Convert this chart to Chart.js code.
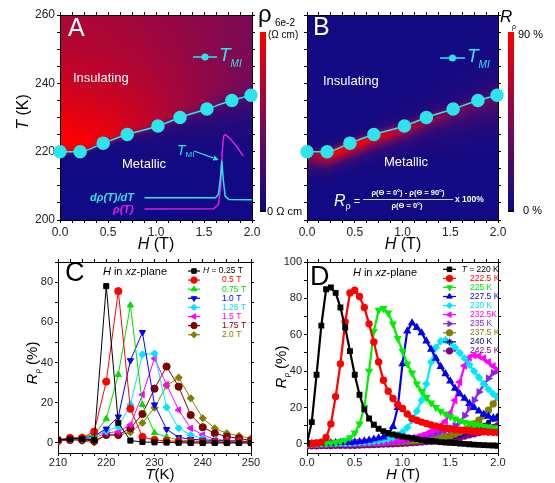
<!DOCTYPE html>
<html>
<head>
<meta charset="UTF-8">
<title>Resistivity maps and R_rho curves</title>
<script src="https://cdn.jsdelivr.net/npm/chart.js"></script>
<style>
  html, body { margin: 0; padding: 0; background: #fff; }
  #page { position: relative; width: 555px; height: 483px; overflow: hidden; }
  #page canvas { position: absolute; left: 0; top: 0; }
</style>
</head>
<body>
<div id="page">
  <canvas id="chart-a" width="555" height="483"></canvas>
  <canvas id="chart-b" width="555" height="483"></canvas>
  <canvas id="chart-c" width="555" height="483"></canvas>
  <canvas id="chart-d" width="555" height="483"></canvas>
</div>
<script>
// ---- panels A, B: T_MI line (field in T, temperature in K)
const tmiField = [0, 0.21, 0.45, 0.70, 1.02, 1.25, 1.53, 1.79, 1.99];
const tmiTemp = [220, 220, 222.5, 225, 227.5, 230, 232.5, 235, 236.5];

// inset curves of panel A
const drhoField = [0.88, 1.62, 1.65, 1.67, 1.685, 1.70, 1.72, 1.76, 2.0];
const drhoTemp = [206.5, 206.5, 207.5, 212, 217.3, 212, 207, 206, 205.9];
const rhoField = [0.88, 1.60, 1.65, 1.675, 1.69, 1.705, 1.72, 1.77, 1.84, 1.91];
const rhoTemp = [203.2, 203.3, 204.5, 210, 220, 224.5, 225, 223.9, 221.5, 218.7];

// colour maps, read as fraction of the colour bar, by field (columns)
// and by distance from the T_MI line in K (rows)
const mapField = [0, 0.25, 0.5, 0.75, 1.0, 1.25, 1.5, 1.75, 2.0];
const mapOffset = [-20, -12, -8, -5, -3, -1.5, -0.5, 0.5, 1.5, 3, 5, 8, 12, 20, 30, 40];
const rhoMap = [
  [0.02, 0.02, 0.02, 0.02, 0.02, 0.02, 0.03, 0.03, 0.04],
  [0.02, 0.02, 0.03, 0.03, 0.04, 0.04, 0.05, 0.06, 0.07],
  [0.02, 0.03, 0.03, 0.04, 0.05, 0.06, 0.08, 0.10, 0.11],
  [0.03, 0.03, 0.04, 0.05, 0.07, 0.09, 0.12, 0.14, 0.16],
  [0.03, 0.04, 0.05, 0.07, 0.10, 0.13, 0.16, 0.19, 0.21],
  [0.04, 0.05, 0.08, 0.12, 0.17, 0.20, 0.22, 0.25, 0.26],
  [0.30, 0.30, 0.35, 0.35, 0.35, 0.33, 0.30, 0.30, 0.30],
  [0.95, 0.93, 0.85, 0.72, 0.60, 0.50, 0.42, 0.36, 0.34],
  [0.98, 0.96, 0.90, 0.80, 0.70, 0.60, 0.50, 0.42, 0.38],
  [1.00, 0.97, 0.90, 0.80, 0.72, 0.64, 0.55, 0.47, 0.42],
  [0.99, 0.95, 0.88, 0.79, 0.71, 0.64, 0.57, 0.50, 0.45],
  [0.96, 0.91, 0.85, 0.77, 0.70, 0.63, 0.57, 0.51, 0.46],
  [0.90, 0.86, 0.80, 0.74, 0.68, 0.62, 0.56, 0.51, 0.47],
  [0.80, 0.77, 0.73, 0.69, 0.64, 0.60, 0.55, 0.51, 0.48],
  [0.72, 0.70, 0.67, 0.64, 0.61, 0.57, 0.54, 0.51, 0.48],
  [0.68, 0.66, 0.64, 0.62, 0.59, 0.56, 0.53, 0.50, 0.48]
];
const rpMap = [
  [0.03, 0.03, 0.03, 0.03, 0.03, 0.03, 0.03, 0.03, 0.03],
  [0.03, 0.03, 0.03, 0.04, 0.04, 0.05, 0.06, 0.07, 0.08],
  [0.05, 0.05, 0.06, 0.06, 0.07, 0.08, 0.10, 0.12, 0.14],
  [0.15, 0.20, 0.20, 0.18, 0.16, 0.16, 0.17, 0.19, 0.20],
  [0.35, 0.60, 0.60, 0.50, 0.40, 0.34, 0.30, 0.28, 0.28],
  [0.50, 0.95, 0.95, 0.85, 0.70, 0.55, 0.45, 0.38, 0.34],
  [0.45, 0.90, 0.95, 0.85, 0.70, 0.56, 0.46, 0.40, 0.36],
  [0.20, 0.35, 0.40, 0.40, 0.38, 0.34, 0.30, 0.28, 0.28],
  [0.08, 0.10, 0.12, 0.14, 0.15, 0.16, 0.16, 0.17, 0.20],
  [0.05, 0.06, 0.06, 0.07, 0.08, 0.09, 0.10, 0.12, 0.14],
  [0.04, 0.04, 0.05, 0.05, 0.06, 0.07, 0.08, 0.09, 0.10],
  [0.04, 0.04, 0.04, 0.05, 0.05, 0.05, 0.06, 0.07, 0.08],
  [0.04, 0.04, 0.04, 0.04, 0.04, 0.04, 0.05, 0.05, 0.06],
  [0.04, 0.04, 0.04, 0.04, 0.04, 0.04, 0.04, 0.04, 0.05],
  [0.04, 0.04, 0.04, 0.04, 0.04, 0.04, 0.04, 0.04, 0.04],
  [0.04, 0.04, 0.04, 0.04, 0.04, 0.04, 0.04, 0.04, 0.04]
];

// ---- panel C: R_rho (%) vs T (K)
const tempC = [210, 212.5, 215, 217.5, 220, 222.5, 225, 227.5, 230, 232.5, 235, 237.5, 240, 242.5, 245, 247.5, 250];
const rpC025 = [1.5, 2, 2, 1.5, 78, 10, 1.2, 0.5, 0.3, 0.2, 0.1, 0, 0, 0, 0, 0, 0];
const rpC050 = [1.5, 2.5, 2.5, 5.6, 30.5, 75.5, 17, 3, 1.5, 1, 0.8, 0.6, 0.5, 0.5, 0.4, 0.4, 0.3];
const rpC075 = [1.5, 2.5, 3, 4, 12, 34, 68.5, 19, 5, 3, 1.5, 1, 0.8, 0.6, 0.5, 0.5, 0.4];
const rpC100 = [1.5, 2, 2.5, 3.5, 7, 13, 41, 55, 19, 6.8, 2.8, 1.8, 1.5, 1.2, 1, 0.8, 0.6];
const rpC125 = [1.5, 2, 2, 3, 6, 8, 19, 44, 44.5, 17.7, 7.3, 4, 2.3, 1.5, 1, 0.8, 0.5];
const rpC150 = [1, 2, 2, 2.5, 5, 5.6, 9, 24, 42, 29, 16.4, 7.3, 4, 1.8, 1.3, 1, 0.8];
const rpC175 = [1, 1.5, 1.5, 1, 4, 4, 7.3, 14.4, 27, 38, 28, 13.9, 7.8, 4.8, 3.1, 2.3, 1.2];
const rpC200 = [0.8, 2, 1, 0.2, 4.1, 3.8, 5.3, 10, 17.5, 28.5, 32.5, 22.2, 12.3, 7.3, 4.8, 3.5, 2.3];

// ---- panel D: R_rho (%) vs H (T)
const fieldD = [0, 0.05, 0.1, 0.15, 0.2, 0.25, 0.3, 0.35, 0.4, 0.45, 0.5, 0.55, 0.6, 0.65, 0.7, 0.75, 0.8, 0.85, 0.9, 0.95,
  1.0, 1.05, 1.1, 1.15, 1.2, 1.25, 1.3, 1.35, 1.4, 1.45, 1.5, 1.55, 1.6, 1.65, 1.7, 1.75, 1.8, 1.85, 1.9, 1.95, 2.0];
const rpD220 = [0.4, 12, 38, 65, 85, 86, 83, 75, 64, 51, 38, 27, 19, 14, 10.5, 8.3, 7, 6, 5.2, 4.6,
  4.1, 3.6, 3.1, 2.6, 2.2, 1.9, 1.6, 1.3, 1.0, 0.8, 0.6, 0.4, 0.2, 0, -0.2, -0.4, -0.5, -0.7, -0.8, -0.9, -1];
const rpD2225 = [0, 0.2, 0.5, 1, 3.5, 11, 26, 44, 67, 83, 84.5, 81, 75, 66, 56, 45, 35, 29, 25, 21.5,
  19.5, 16.5, 14, 13, 12, 11.2, 10.4, 9.8, 9.2, 8.7, 8.3, 7.9, 7.6, 7.4, 7.2, 7, 6.8, 6.7, 6.5, 6.4, 6.3];
const rpD225 = [0, 0.1, 0.2, 0.3, 0.4, 0.6, 0.8, 1.2, 2, 3.5, 6, 11, 20, 40, 62, 73.5, 74.5, 72, 66, 58,
  51, 44, 39, 33, 29, 25.5, 22.5, 20, 18, 16.5, 15, 13.8, 12.7, 12, 11.3, 10.7, 10.2, 9.7, 9.3, 8.9, 8.6];
const rpD2275 = [0, 0.1, 0.2, 0.3, 0.4, 0.5, 0.6, 0.7, 0.8, 0.9, 1, 1.2, 1.6, 2, 2.6, 3.2, 3.8, 5.2, 9.5, 20,
  44, 62, 66.5, 64, 61, 56.5, 52, 47, 42.5, 38.5, 34.5, 30.5, 27.5, 25, 22.2, 20, 18, 16.3, 15.2, 14.3, 13.7];
const rpD230 = [0, 0.1, 0.1, 0.2, 0.2, 0.3, 0.3, 0.4, 0.5, 0.6, 0.7, 0.8, 1, 1.2, 1.5, 1.8, 2.2, 2.8, 3.6, 4.8,
  6.5, 9, 13, 18, 24, 33, 45, 53, 56.5, 57, 55.5, 53, 50, 47, 43.5, 40, 36.5, 33, 30, 27.5, 25.5];
const rpD2325 = [0, 0, 0.1, 0.1, 0.2, 0.2, 0.3, 0.3, 0.4, 0.5, 0.5, 0.6, 0.7, 0.8, 0.9, 1.0, 1.2, 1.4, 1.6, 1.9,
  2.2, 2.6, 3.1, 3.7, 4.5, 5.5, 6.8, 8.2, 10, 12.5, 17, 24, 34, 43, 47.5, 48.7, 48.3, 47, 45, 42.8, 40.5];
const rpD235 = [0, 0, 0.1, 0.1, 0.2, 0.2, 0.3, 0.3, 0.4, 0.4, 0.5, 0.6, 0.7, 0.8, 0.9, 1.0, 1.1, 1.3, 1.5, 1.7,
  2.0, 2.3, 2.7, 3.1, 3.6, 4.2, 5, 5.8, 6.6, 7.3, 8, 10, 12, 15.5, 19.5, 24, 28.5, 32.5, 36, 39, 40.5];
const rpD2375 = [0, 0, 0, 0.1, 0.1, 0.2, 0.2, 0.3, 0.3, 0.4, 0.4, 0.5, 0.5, 0.6, 0.7, 0.8, 0.9, 1.0, 1.1, 1.2,
  1.4, 1.5, 1.7, 1.9, 2.1, 2.4, 2.7, 3, 3.4, 3.9, 4.5, 5.4, 6.5, 7.7, 9, 11, 13, 15.5, 18.5, 22, 26];
const rpD240 = [-0.8, -0.8, -0.7, -0.7, -0.6, -0.6, -0.5, -0.5, -0.4, -0.3, -0.2, -0.1, 0, 0.1, 0.2, 0.3, 0.4, 0.5, 0.6, 0.8,
  0.9, 1.1, 1.3, 1.5, 1.7, 1.9, 2.2, 2.5, 2.8, 3.2, 3.6, 4.1, 4.8, 5.6, 6.5, 7.6, 8.8, 10.2, 11.8, 13.6, 15.5];
const rpD2425 = [-1, -1, -1, -0.9, -0.9, -0.9, -0.8, -0.8, -0.8, -0.7, -0.7, -0.6, -0.5, -0.4, -0.3, -0.2, -0.1, 0, 0.1, 0.2,
  0.3, 0.5, 0.7, 0.9, 1.1, 1.3, 1.5, 1.8, 2.1, 2.4, 2.8, 3.2, 3.7, 4.3, 5, 5.6, 6.3, 7.1, 8, 9, 10];

const PAGE_W = 555, PAGE_H = 483;
const FONT = '"Liberation Sans", Arial, Helvetica, sans-serif';
const CYAN = '#2ee4ec';
const MAGENTA = '#e020e0';
const f = (size, style) => ((style || '') + ' ' + size + 'px ' + FONT).trim();
const xy = (xs, ys) => xs.map((x, i) => ({x: x, y: ys[i]}));

// ---- small drawing helpers
function lerp(xs, ys, x) {
  if (x <= xs[0]) return ys[0];
  for (let i = 1; i < xs.length; i++) {
    if (x <= xs[i]) return ys[i - 1] + (x - xs[i - 1]) / (xs[i] - xs[i - 1]) * (ys[i] - ys[i - 1]);
  }
  return ys[ys.length - 1];
}
function locate(xs, x) {
  if (x <= xs[0]) return [0, 0];
  for (let i = 1; i < xs.length; i++) {
    if (x <= xs[i]) return [i - 1, (x - xs[i - 1]) / (xs[i] - xs[i - 1])];
  }
  return [xs.length - 2, 1];
}
function mapValue(grid, field, dT) {
  const [c, fc] = locate(mapField, field);
  const [r, fr] = locate(mapOffset, dT);
  const a = grid[r][c] * (1 - fc) + grid[r][c + 1] * fc;
  const b = grid[r + 1][c] * (1 - fc) + grid[r + 1][c + 1] * fc;
  return a * (1 - fr) + b * fr;
}
const cmapStops = [[0, [10, 10, 135]], [0.45, [115, 10, 90]], [1, [255, 0, 0]]];
function cmap(t) {
  t = Math.max(0, Math.min(1, t));
  for (let i = 1; i < cmapStops.length; i++) {
    const [t0, c0] = cmapStops[i - 1], [t1, c1] = cmapStops[i];
    if (t <= t1) {
      const k = (t - t0) / (t1 - t0);
      return c0.map((v, j) => Math.round(v + k * (c1[j] - v)));
    }
  }
  return cmapStops[cmapStops.length - 1][1];
}

function drawText(ctx, x, y, parts, color, align, rotate) {
  ctx.save();
  ctx.translate(x, y);
  if (rotate) ctx.rotate(rotate);
  ctx.textBaseline = 'middle';
  ctx.textAlign = 'left';
  let w = 0;
  for (const p of parts) { ctx.font = p[1]; w += ctx.measureText(p[0]).width; }
  let cx = align === 'center' ? -w / 2 : align === 'right' ? -w : 0;
  for (const p of parts) {
    ctx.font = p[1];
    ctx.fillStyle = p[3] || color;
    ctx.fillText(p[0], cx, p[2] || 0);
    cx += ctx.measureText(p[0]).width;
  }
  ctx.restore();
}

function drawMarker(ctx, style, rot, r, x, y) {
  if (Chart.helpers && Chart.helpers.drawPoint) {
    Chart.helpers.drawPoint(ctx, {pointStyle: style, rotation: rot || 0, radius: r, borderWidth: 1}, x, y);
  } else {
    ctx.beginPath(); ctx.arc(x, y, r, 0, Math.PI * 2); ctx.fill(); ctx.stroke();
  }
}

function colorbar(ctx, x, top, w, bottom) {
  const g = ctx.createLinearGradient(0, bottom, 0, top);
  for (let i = 0; i <= 20; i++) g.addColorStop(i / 20, 'rgb(' + cmap(i / 20).join(',') + ')');
  ctx.fillStyle = g;
  ctx.fillRect(x, top, w, bottom - top);
  ctx.fillStyle = '#000';
  ctx.fillRect(x, bottom - 2, w, 2);
}

function tmiKey(ctx, x0, x1, y) {
  ctx.save();
  ctx.strokeStyle = CYAN; ctx.fillStyle = CYAN; ctx.lineWidth = 1.5;
  ctx.beginPath(); ctx.moveTo(x0, y); ctx.lineTo(x1, y); ctx.stroke();
  ctx.beginPath(); ctx.arc((x0 + x1) / 2, y, 3.5, 0, Math.PI * 2); ctx.fill();
  ctx.restore();
  drawText(ctx, x1 + 2, y - 1, [['T', f(19, 'italic')], ['MI', f(10, 'italic'), 8]], CYAN);
}

function seriesKey(chart, x0, x1, y0, dy, tx, first, firstX) {
  const ctx = chart.ctx;
  chart.data.datasets.forEach((ds, i) => {
    const y = y0 + i * dy;
    ctx.save();
    ctx.strokeStyle = ds.borderColor; ctx.lineWidth = 1.2;
    ctx.beginPath(); ctx.moveTo(x0, y); ctx.lineTo(x1, y); ctx.stroke();
    ctx.fillStyle = ds.pointBackgroundColor; ctx.strokeStyle = ds.pointBorderColor; ctx.lineWidth = 1;
    drawMarker(ctx, ds.pointStyle, ds.pointRotation, 3.2, (x0 + x1) / 2, y);
    ctx.restore();
    if (i === 0) {
      drawText(ctx, firstX, y, [[first[0], f(8.5, 'italic')], [first[1] + ds.label, f(8.5)]], ds.borderColor);
    } else {
      drawText(ctx, tx, y, [[ds.label, f(8.5)]], ds.borderColor);
    }
  });
}

function heatmap(grid) {
  return {
    id: 'heatmap',
    beforeDraw(chart) {
      const a = chart.chartArea, sx = chart.scales.x, sy = chart.scales.y;
      const w = Math.round(a.right - a.left), h = Math.round(a.bottom - a.top);
      const off = document.createElement('canvas');
      off.width = w; off.height = h;
      const octx = off.getContext('2d');
      const img = octx.createImageData(w, h);
      for (let i = 0; i < w; i++) {
        const field = sx.getValueForPixel(a.left + i + 0.5);
        const tmi = lerp(tmiField, tmiTemp, field);
        for (let j = 0; j < h; j++) {
          const temp = sy.getValueForPixel(a.top + j + 0.5);
          const c = cmap(mapValue(grid, field, temp - tmi));
          const k = 4 * (j * w + i);
          img.data[k] = c[0]; img.data[k + 1] = c[1]; img.data[k + 2] = c[2]; img.data[k + 3] = 255;
        }
      }
      octx.putImageData(img, 0, 0);
      chart.ctx.drawImage(off, a.left, a.top);
    }
  };
}

// four axes round the plot; axis boxes are sized so the plot area lands on `box`
function frameScales(box, xa, ya, showY, fontSize) {
  const grid = {drawOnChartArea: false, drawTicks: true, tickLength: 3, color: '#000', lineWidth: 1};
  const border = {display: true, color: '#000', width: 1};
  const label = (ax) => (v) => Math.abs(v / ax.major - Math.round(v / ax.major)) < 1e-6 ? ax.fmt(v) : '';
  const tickFont = {family: FONT, size: fontSize};
  const base = (ax) => ({type: 'linear', min: ax.min, max: ax.max, grid: grid, border: border});
  return {
    x: Object.assign(base(xa), {position: 'bottom',
      ticks: {stepSize: xa.step, autoSkip: false, includeBounds: false, maxRotation: 0, padding: fontSize < 12 ? 0 : 2,
        color: '#222', font: tickFont, callback: label(xa)},
      afterFit: (s) => { s.height = PAGE_H - box.bottom; }}),
    xTop: Object.assign(base(xa), {position: 'top',
      ticks: {stepSize: xa.step, autoSkip: false, includeBounds: false, display: false},
      afterFit: (s) => { s.height = box.top; }}),
    y: Object.assign(base(ya), {position: 'left',
      ticks: {stepSize: ya.step, autoSkip: false, includeBounds: false, padding: 2, color: '#222', font: tickFont,
        callback: showY ? label(ya) : () => ''},
      afterFit: (s) => { s.width = box.left; }}),
    yRight: Object.assign(base(ya), {position: 'right',
      ticks: {stepSize: ya.step, autoSkip: false, includeBounds: false, display: false},
      afterFit: (s) => { s.width = PAGE_W - box.right; }})
  };
}

function options(box, xa, ya, showY, fontSize) {
  return {
    responsive: false, animation: false, devicePixelRatio: 1, events: [],
    layout: {padding: 0},
    plugins: {legend: {display: false}, tooltip: {enabled: false}},
    scales: frameScales(box, xa, ya, showY, fontSize)
  };
}

const fieldAxis = {min: 0, max: 2, step: 0.125, major: 0.5, fmt: (v) => v.toFixed(1)};
const tempAxis = {min: 200, max: 260, step: 5, major: 20, fmt: (v) => String(v)};

function tmiDataset() {
  return {label: 'T_MI', data: xy(tmiField, tmiTemp), borderColor: CYAN, backgroundColor: CYAN,
    pointBackgroundColor: CYAN, pointBorderColor: CYAN, pointRadius: 6, borderWidth: 1.5,
    cubicInterpolationMode: 'monotone', clip: false, xAxisID: 'x', yAxisID: 'y'};
}

// ---------------- panel A
const boxA = {left: 60, top: 15, right: 252, bottom: 220};
new Chart(document.getElementById('chart-a'), {
  type: 'line',
  data: {datasets: [
    tmiDataset(),
    {label: 'dρ(T)/dT', data: xy(drhoField, drhoTemp), borderColor: CYAN, pointRadius: 0, borderWidth: 1.5,
      clip: false, xAxisID: 'x', yAxisID: 'y'},
    {label: 'ρ(T)', data: xy(rhoField, rhoTemp), borderColor: MAGENTA, pointRadius: 0, borderWidth: 1.5,
      clip: false, xAxisID: 'x', yAxisID: 'y'}
  ]},
  options: options(boxA, fieldAxis, tempAxis, true, 12),
  plugins: [heatmap(rhoMap), {
    id: 'decorA',
    afterDraw(chart) {
      const ctx = chart.ctx, sx = chart.scales.x, sy = chart.scales.y;
      drawText(ctx, 68, 29, [['A', f(25)]], '#fff');
      drawText(ctx, 73, 78, [['Insulating', f(13)]], '#fff');
      drawText(ctx, 122, 164, [['Metallic', f(13)]], '#fff');
      tmiKey(ctx, 193, 217, 57);
      drawText(ctx, 90, 198, [['dρ(T)/dT', f(11, 'italic bold')]], CYAN);
      drawText(ctx, 113, 210, [['ρ(T)', f(11, 'italic bold')]], MAGENTA);
      drawText(ctx, 177, 151, [['T', f(14, 'italic')], ['MI', f(8), 4]], CYAN);
      // arrow to the peak of dρ/dT
      const px = sx.getPixelForValue(drhoField[4]) - 3, py = sy.getPixelForValue(drhoTemp[4]) - 1;
      const x0 = 194, y0 = 151, ang = Math.atan2(py - y0, px - x0), L = 6;
      ctx.save();
      ctx.strokeStyle = CYAN; ctx.fillStyle = CYAN; ctx.lineWidth = 1.2;
      ctx.beginPath(); ctx.moveTo(x0, y0); ctx.lineTo(px - L * Math.cos(ang), py - L * Math.sin(ang)); ctx.stroke();
      ctx.beginPath(); ctx.moveTo(px, py);
      ctx.lineTo(px - L * Math.cos(ang - 0.45), py - L * Math.sin(ang - 0.45));
      ctx.lineTo(px - L * Math.cos(ang + 0.45), py - L * Math.sin(ang + 0.45));
      ctx.closePath(); ctx.fill();
      ctx.restore();
      // colour bar
      colorbar(ctx, 260, 32, 6, 212);
      drawText(ctx, 258, 15, [['ρ', f(24)]], '#000');
      drawText(ctx, 275, 23, [['6e-2', f(10)]], '#000');
      drawText(ctx, 268, 35, [['(Ω cm)', f(10)]], '#000');
      drawText(ctx, 267, 212, [['0 Ω cm', f(11)]], '#000');
      // axis titles
      drawText(ctx, 24, 112, [['T', f(16, 'italic')], [' (K)', f(16)]], '#000', 'center', -Math.PI / 2);
      drawText(ctx, 156, 245, [['H', f(16, 'italic')], [' (T)', f(16)]], '#000', 'center');
    }
  }]
});

// ---------------- panel B
const boxB = {left: 307, top: 15, right: 498, bottom: 220};
new Chart(document.getElementById('chart-b'), {
  type: 'line',
  data: {datasets: [tmiDataset()]},
  options: options(boxB, fieldAxis, tempAxis, false, 12),
  plugins: [heatmap(rpMap), {
    id: 'decorB',
    afterDraw(chart) {
      const ctx = chart.ctx;
      drawText(ctx, 313, 28, [['B', f(25)]], '#fff');
      drawText(ctx, 323, 81, [['Insulating', f(13)]], '#fff');
      drawText(ctx, 384, 162, [['Metallic', f(13)]], '#fff');
      tmiKey(ctx, 440, 465, 58);
      // R_rho definition
      drawText(ctx, 334, 202, [['R', f(16, 'italic')], ['ρ', f(9), 5], [' =', f(11)]], '#fff');
      drawText(ctx, 408, 193, [['ρ(Θ = 0°) - ρ(Θ = 90°)', f(7.5, 'bold')]], '#fff', 'center');
      ctx.save(); ctx.strokeStyle = '#fff'; ctx.lineWidth = 0.8;
      ctx.beginPath(); ctx.moveTo(363, 199.5); ctx.lineTo(453, 199.5); ctx.stroke(); ctx.restore();
      drawText(ctx, 407, 206, [['ρ(Θ = 0°)', f(7.5, 'bold')]], '#fff', 'center');
      drawText(ctx, 455, 200, [['x 100%', f(8.5, 'bold')]], '#fff');
      // colour bar
      colorbar(ctx, 508, 32, 6, 212);
      drawText(ctx, 500, 17, [['R', f(17, 'italic')]], '#000');
      drawText(ctx, 512, 27, [['ρ', f(7)]], '#000');
      drawText(ctx, 518, 35, [['90 %', f(11)]], '#000');
      drawText(ctx, 523, 211, [['0 %', f(11)]], '#000');
      drawText(ctx, 403, 245, [['H', f(16, 'italic')], [' (T)', f(16)]], '#000', 'center');
    }
  }]
});

// ---------------- panel C
const stylesC = [
  ['0.25 T', rpC025, '#000000', 'rect', 0],
  ['0.5 T', rpC050, '#ff0000', 'circle', 0],
  ['0.75 T', rpC075, '#00dd00', 'triangle', 0],
  ['1.0 T', rpC100, '#0000ff', 'triangle', 180],
  ['1.25 T', rpC125, '#00e5ff', 'rectRot', 0],
  ['1.5 T', rpC150, '#ff00ff', 'triangle', 270],
  ['1.75 T', rpC175, '#800000', 'circle', 0],
  ['2.0 T', rpC200, '#808000', 'rectRot', 0]
];
const boxC = {left: 58, top: 262, right: 251, bottom: 453};
new Chart(document.getElementById('chart-c'), {
  type: 'line',
  data: {datasets: stylesC.map(([label, values, color, shape, rot]) => ({
    label: label, data: xy(tempC, values), borderColor: color, backgroundColor: color,
    pointBackgroundColor: color, pointBorderColor: color, pointStyle: shape, pointRotation: rot,
    pointRadius: 3.6, borderWidth: 1, xAxisID: 'x', yAxisID: 'y'}))},
  options: options(boxC, {min: 210, max: 250, step: 2.5, major: 10, fmt: (v) => String(v)},
    {min: -5, max: 90, step: 10, major: 20, fmt: (v) => String(v)}, true, 11),
  plugins: [{
    id: 'decorC',
    afterDraw(chart) {
      const ctx = chart.ctx;
      drawText(ctx, 65, 274, [['C', f(27)]], '#000');
      drawText(ctx, 135, 272, [['H', f(11, 'italic')], [' in ', f(11)], ['xz', f(11, 'italic')], ['-plane', f(11)]], '#000', 'center');
      seriesKey(chart, 188, 200, 271, 9.1, 222, ['H', ' = '], 203);
      drawText(ctx, 33, 363, [['R', f(15, 'italic')], ['ρ', f(8), 5], [' (%)', f(15)]], '#000', 'center', -Math.PI / 2);
      drawText(ctx, 160, 475, [['T', f(15, 'italic')], ['(K)', f(15)]], '#000', 'center');
    }
  }]
});

// ---------------- panel D
const stylesD = [
  ['220 K', rpD220, '#000000', 'rect', 0],
  ['222.5 K', rpD2225, '#ff0000', 'circle', 0],
  ['225 K', rpD225, '#00ee00', 'triangle', 180],
  ['227.5 K', rpD2275, '#0000ee', 'triangle', 0],
  ['230 K', rpD230, '#00e8ff', 'rectRot', 0],
  ['232.5K', rpD2325, '#ff00ff', 'triangle', 270],
  ['235 K', rpD235, '#8822ee', 'triangle', 90],
  ['237.5 K', rpD2375, '#808000', 'circle', 0],
  ['240 K', rpD240, '#000080', 'star', 0],
  ['242.5 K', rpD2425, '#800080', 'circle', 0]
];
const boxD = {left: 307, top: 262, right: 498, bottom: 453};
new Chart(document.getElementById('chart-d'), {
  type: 'line',
  data: {datasets: stylesD.map(([label, values, color, shape, rot]) => ({
    label: label, data: xy(fieldD, values), borderColor: color, backgroundColor: color,
    pointBackgroundColor: color, pointBorderColor: color, pointStyle: shape, pointRotation: rot,
    pointRadius: 2.6, borderWidth: 2.2, xAxisID: 'x', yAxisID: 'y'}))},
  options: options(boxD, fieldAxis, {min: -5, max: 100, step: 10, major: 20, fmt: (v) => String(v)}, true, 11),
  plugins: [{
    id: 'decorD',
    afterDraw(chart) {
      const ctx = chart.ctx;
      drawText(ctx, 310, 278, [['D', f(27)]], '#000');
      drawText(ctx, 385, 273, [['H', f(11, 'italic')], [' in ', f(11)], ['xz', f(11, 'italic')], ['-plane', f(11)]], '#000', 'center');
      seriesKey(chart, 443, 456, 269.3, 9.07, 470, ['T', ' = '], 461.7);
      drawText(ctx, 282, 367, [['R', f(15, 'italic')], ['ρ', f(8), 5], [' (%)', f(15)]], '#000', 'center', -Math.PI / 2);
      drawText(ctx, 403, 475, [['H', f(15, 'italic')], [' (T)', f(15)]], '#000', 'center');
    }
  }]
});
</script>
</body>
</html>
